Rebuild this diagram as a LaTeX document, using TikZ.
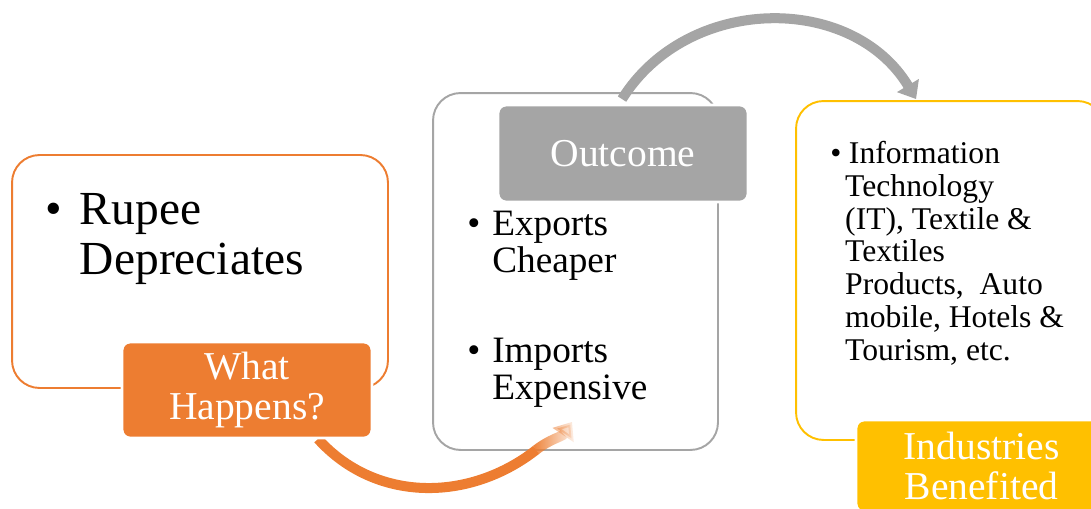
\documentclass[tikz,border=0pt]{standalone}
\usepackage{fontspec}
\setmainfont{Liberation Serif}
\usetikzlibrary{arrows.meta,calc,fadings}

\definecolor{ppOrange}{HTML}{ED7D31}
\definecolor{ppGray}{HTML}{A5A5A5}
\definecolor{ppGold}{HTML}{FFC000}

\tikzfading[name=tipfade, left color=transparent!0, middle color=transparent!80, right color=transparent!95]

% punto elenco con righe allineate
\newcommand{\bul}[2]{\makebox[#1][l]{\textbullet}\begin{tabular}[t]{@{}l@{}}#2\end{tabular}}

\begin{document}
\begin{tikzpicture}[x=0.02cm, y=0.02cm,
  box/.style={draw, rounded corners=0.55cm, line width=1.1pt, fill=white},
  tag/.style={rounded corners=0.16cm, draw=white, line width=1.6pt, text=white, align=center, font=\fontsize{22.5}{23}\selectfont},
  txt/.style={anchor=north west, inner sep=0pt, align=left},
  curvarrow/.style={line width=5.7pt, -{Triangle[width=14pt,length=9pt]}}]

\useasboundingbox (0,0) rectangle (1091,508);
\clip (0,0) rectangle (1091,508);

% Riquadri
\node[box, draw=ppOrange, minimum width=7.52cm, minimum height=4.66cm] (rupee) at (200,236.5) {};
\node[box, draw=ppGray, minimum width=5.7cm, minimum height=7.14cm] (trade) at (575.5,236.5) {};
\node[box, draw=ppGold, minimum width=6.18cm, minimum height=6.78cm] (sectors) at (950.5,237.5) {};

% Frecce
\coordinate (fadept) at ($(trade.south west)+(104,1)$);
\draw[ppOrange, line width=5.7pt] ($(rupee.south)+(118,-50)$) to[out=-48, in=218] (fadept);
\draw[ppOrange, curvarrow, path fading=tipfade] (fadept) to[out=38, in=236] ($(trade.south)+(-3.5,29)$);
\draw[ppGray, curvarrow] ($(trade.north)+(46.5,-7)$) to[out=58, in=121, looseness=1.08] ($(sectors.north west)+(121,1)$);

% Etichette
\node[tag, fill=ppOrange, minimum width=5cm, minimum height=1.92cm] (what) at (247,118) {What\\Happens?};
\node[tag, fill=ppGray, minimum width=5cm, minimum height=1.94cm] (outcome) at (623,354.5) {Outcome};
\node[tag, fill=ppGold, minimum width=5.02cm, minimum height=1.84cm] (benefit) at (981.5,42) {Industries\\Benefited};

% Testi
\node[txt, font=\fontsize{27}{28.5}\selectfont] (dep) at (45,319) {\bul{0.73em}{Rupee\\Depreciates}};
\node[txt, font=\fontsize{21.2}{21.2}\selectfont] (exp) at (467,299) {\bul{0.67em}{Exports\\Cheaper}};
\node[txt, font=\fontsize{21.2}{21.2}\selectfont] (imp) at (467,172) {\bul{0.67em}{Imports\\Expensive}};
\node[txt, font=\fontsize{18}{18.7}\selectfont] (list) at (830,368) {\bul{0.47em}{\hspace{0.12em}Information\\Technology\\(IT), Textile \&\\Textiles\\Products,\ \ Auto\\mobile, Hotels \&\\Tourism, etc.}};
\end{tikzpicture}
\end{document}
